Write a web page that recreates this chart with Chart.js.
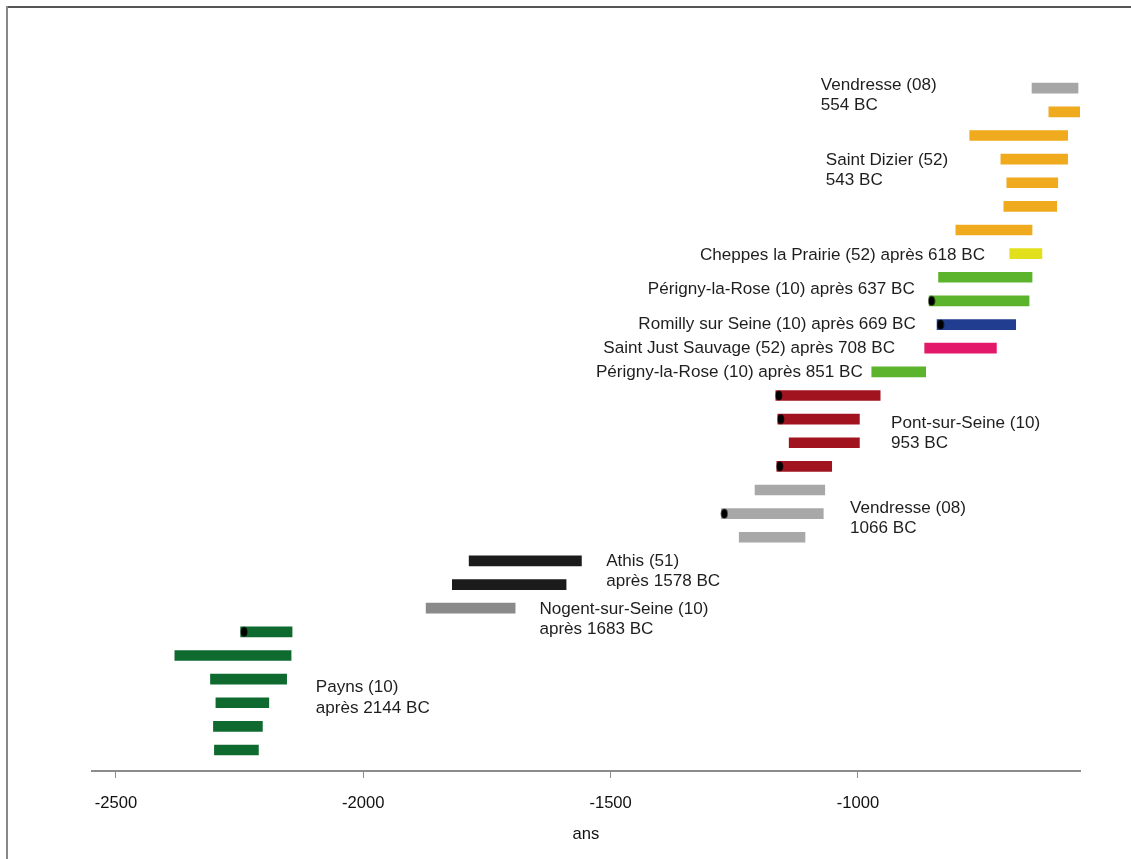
<!DOCTYPE html>
<html><head><meta charset="utf-8">
<script src="https://cdn.jsdelivr.net/npm/chart.js@4/dist/chart.umd.min.js"></script>
<style>html,body{margin:0;padding:0;background:#fff}canvas{display:block}</style>
</head><body>
<canvas id="c" width="1131" height="859"></canvas>
<script>
// ---- data (years, negative = BC), rows listed top to bottom ----
const siteGroups = ["vendresse554","stdizier","stdizier","stdizier","stdizier","stdizier","stdizier",
  "cheppes","perigny637","perigny637","romilly","stjust","perigny851",
  "pont","pont","pont","pont","vendresse1066","vendresse1066","vendresse1066",
  "athis","athis","nogent","payns","payns","payns","payns","payns","payns"];
const barStarts = [-648,-614,-774,-711,-699,-705,-802,-693,-837,-856,-840,-865,-972,
  -1166,-1162,-1139,-1164,-1208,-1276,-1240,-1786,-1820,-1873,-2248,-2381,-2309,-2298,-2303,-2301];
const barEnds = [-555,-551,-576,-576,-596,-598,-648,-628,-648,-654,-681,-720,-863,
  -955,-997,-997,-1053,-1067,-1070,-1107,-1559,-1590,-1693,-2144,-2146,-2155,-2191,-2204,-2212];
// black markers (row number counted from top, 1-based) and their year
const markerRows = [10,11,14,15,17,19,24];
const markerYears = [-851,-833,-1160,-1156,-1158,-1270,-2241];
const tickValues = [-2500,-2000,-1500,-1000];
const axisTitle = "ans";
// annotations: text lines, anchor year, anchor row value, alignment
const labelLines = [
  ["Vendresse (08)","554 BC"],
  ["Saint Dizier (52)","543 BC"],
  ["Cheppes la Prairie (52) après 618 BC"],
  ["Périgny-la-Rose (10) après 637 BC"],
  ["Romilly sur Seine (10) après 669 BC"],
  ["Saint Just Sauvage (52) après 708 BC"],
  ["Périgny-la-Rose (10) après 851 BC"],
  ["Pont-sur-Seine (10)","953 BC"],
  ["Vendresse (08)","1066 BC"],
  ["Athis (51)","après 1578 BC"],
  ["Nogent-sur-Seine (10)","après 1683 BC"],
  ["Payns (10)","après 2144 BC"]
];
const labelYears = [-1075,-1065,-743,-885,-883,-925,-990,-933,-1016,-1509,-1644,-2096];
const labelRows = [28.70,25.53,21.94,20.5,19,18,17,14.40,10.80,8.55,6.54,3.21];
const labelAlign = ["left","left","right","right","right","right","right","left","left","left","left","left"];

// ---- styles ----
const groupColors = {
  vendresse554:"#a6a6a6", stdizier:"#efaa1d", cheppes:"#e2df1c", perigny637:"#5bb42b",
  romilly:"#213d8f", stjust:"#e4186a", perigny851:"#5bb42b", pont:"#a1141f",
  vendresse1066:"#a8a8a8", athis:"#1b1b1b", nogent:"#8a8a8a", payns:"#0f6a30"
};
const FONT = "'Liberation Sans', Arial, sans-serif";
const nRows = barStarts.length;
const rowValue = i => nRows - i; // i = 0-based index from top

const barData = barStarts.map((s, i) => ({ x: [s, barEnds[i]], y: rowValue(i) }));
const markerData = markerRows.map((r, i) => ({ x: markerYears[i], y: rowValue(r - 1) }));

// ellipse marker
const dot = document.createElement('canvas');
dot.width = 8; dot.height = 11;
(function(){ const g = dot.getContext('2d'); g.fillStyle = '#000'; g.beginPath();
  g.ellipse(4, 5.5, 3.3, 4.8, 0, 0, Math.PI*2); g.fill(); })();

const framePlugin = {
  id: 'frame',
  beforeDraw(chart) {
    const ctx = chart.ctx;
    ctx.save();
    ctx.fillStyle = '#fff';
    ctx.fillRect(0, 0, chart.width, chart.height);
    ctx.strokeStyle = '#555'; ctx.lineWidth = 2;
    ctx.beginPath(); ctx.moveTo(7, 7); ctx.lineTo(chart.width, 7); ctx.stroke();
    ctx.strokeStyle = '#888'; ctx.lineWidth = 2;
    ctx.beginPath(); ctx.moveTo(7, 6); ctx.lineTo(7, chart.height); ctx.stroke();
    ctx.restore();
  }
};
const labelPlugin = {
  id: 'labels',
  afterDatasetsDraw(chart) {
    const ctx = chart.ctx, xs = chart.scales.x, ys = chart.scales.y;
    ctx.save();
    ctx.font = "17.1px " + FONT;
    ctx.fillStyle = '#1e1e1e';
    ctx.textBaseline = 'middle';
    const gap = 20.3;
    labelLines.forEach((lines, k) => {
      const x = xs.getPixelForValue(labelYears[k]);
      const yc = ys.getPixelForValue(labelRows[k]);
      ctx.textAlign = labelAlign[k];
      lines.forEach((t, j) => {
        ctx.fillText(t, x, yc + (j - (lines.length - 1) / 2) * gap);
      });
    });
    ctx.restore();
  }
};

new Chart(document.getElementById('c'), {
  data: {
    datasets: [
      { type: 'bar', indexAxis: 'y', data: barData,
        backgroundColor: siteGroups.map(g => groupColors[g]),
        barThickness: 10, grouped: false, borderWidth: 0, order: 2 },
      { type: 'scatter', data: markerData, pointStyle: dot, pointRadius: 4,
        backgroundColor: '#000', borderWidth: 0, order: 1 }
    ]
  },
  options: {
    indexAxis: 'y',
    responsive: false,
    animation: false,
    devicePixelRatio: 1,
    layout: { padding: { left: 92, right: 51, top: 74, bottom: 0 } },
    plugins: { legend: { display: false }, tooltip: { enabled: false } },
    scales: {
      x: {
        type: 'linear', position: 'bottom', min: -2548.5, max: -551,
        afterBuildTicks: s => { s.ticks = tickValues.map(v => ({ value: v })); },
        afterFit: s => { s.height = 88; },
        grid: { display: true, drawOnChartArea: false, drawTicks: true, tickLength: 7,
                tickColor: '#8c8c8c', tickWidth: 1 },
        border: { display: true, color: '#8c8c8c', width: 2 },
        ticks: { color: '#111', font: { family: FONT, size: 16.6 }, padding: 15,
                 callback: v => String(v), maxRotation: 0, autoSkip: false },
        title: { display: true, text: axisTitle, color: '#111',
                 font: { family: FONT, size: 16.6 }, padding: { top: 0, bottom: 15 } }
      },
      y: { type: 'linear', display: false, offset: false, min: 0.112, max: 29.6,
           grid: { display: false } }
    }
  },
  plugins: [framePlugin, labelPlugin]
});
</script>
</body></html>
